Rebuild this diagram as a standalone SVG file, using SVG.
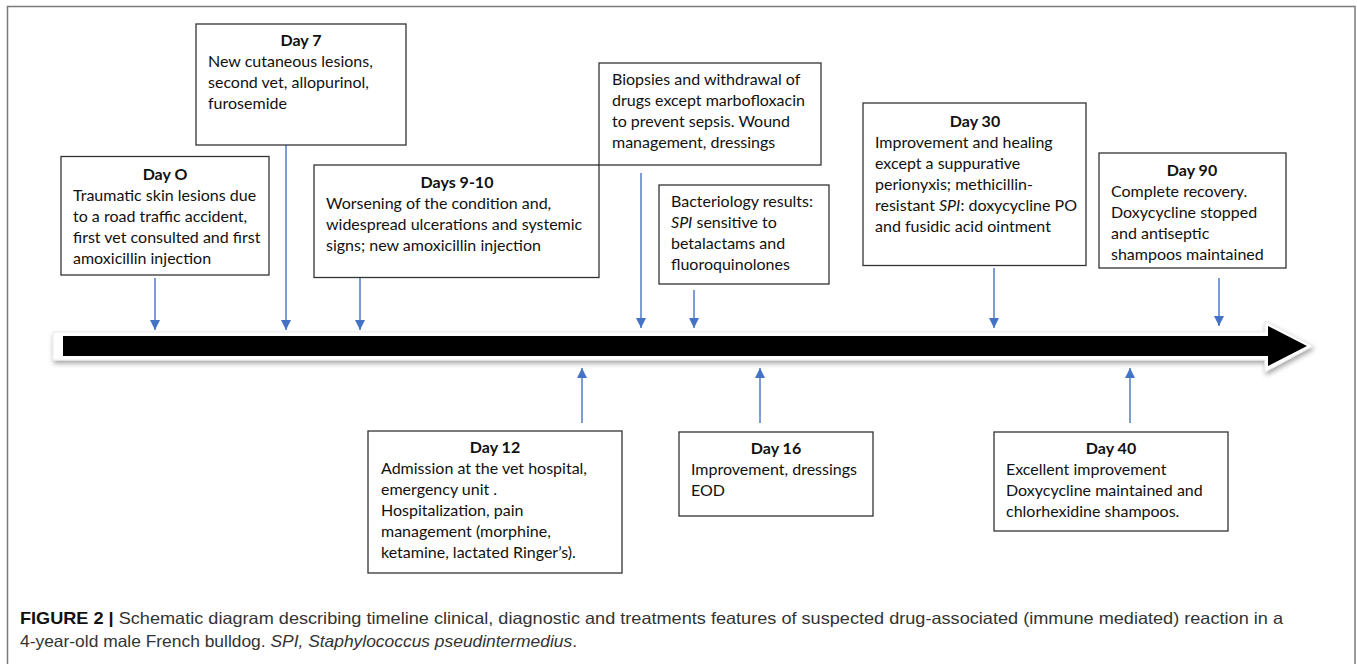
<svg xmlns="http://www.w3.org/2000/svg" width="1357" height="664" viewBox="0 0 1357 664">
<style>
.box{fill:#fff;stroke:#333;stroke-width:1.3}
.t{font-family:Lato,"Open Sans","Liberation Sans",sans-serif;font-size:16px;fill:#111}
.h{font-weight:bold;text-anchor:middle}
.c{stroke:#4472C4;stroke-width:1.4;fill:none}
.cap{font-family:"Liberation Sans",Arial,sans-serif;font-size:16.5px;fill:#333}
</style>
<defs>
<marker id="ah" viewBox="0 0 10 10" refX="10" refY="5" markerWidth="10" markerHeight="10" markerUnits="userSpaceOnUse" orient="auto">
<path d="M0,0 L10,5 L0,10 Z" fill="#4472C4"/>
</marker>
<filter id="sh" x="-5%" y="-50%" width="110%" height="200%">
<feDropShadow dx="1" dy="3" stdDeviation="2.5" flood-color="#000" flood-opacity="0.35"/>
</filter>
</defs>
<rect x="7.5" y="6.5" width="1347.5" height="700" fill="#fff" stroke="#7a7a7a" stroke-width="1.5"/>
<g id="timeline">
<path d="M53,332 L1265,332 L1265,321 L1313,346 L1265,372 L1265,360 L53,360 Z" fill="#fff" stroke="#e8e8e8" stroke-width="1" stroke-linejoin="round" filter="url(#sh)"/>
<path d="M63,336 L1268,336 L1268,326 L1307,346 L1268,366 L1268,356 L63,356 Z" fill="#000"/>
</g>
<g id="connectors">
<line class="c" x1="155" y1="278" x2="155" y2="330" marker-end="url(#ah)"/>
<line class="c" x1="286" y1="145" x2="286" y2="330" marker-end="url(#ah)"/>
<line class="c" x1="360" y1="278" x2="360" y2="330" marker-end="url(#ah)"/>
<line class="c" x1="641" y1="173" x2="641" y2="328" marker-end="url(#ah)"/>
<line class="c" x1="694" y1="290" x2="694" y2="328" marker-end="url(#ah)"/>
<line class="c" x1="994" y1="268" x2="994" y2="328" marker-end="url(#ah)"/>
<line class="c" x1="1219" y1="278" x2="1219" y2="326" marker-end="url(#ah)"/>
<line class="c" x1="582" y1="423" x2="582" y2="368" marker-end="url(#ah)"/>
<line class="c" x1="760" y1="423" x2="760" y2="368" marker-end="url(#ah)"/>
<line class="c" x1="1130" y1="423" x2="1130" y2="368" marker-end="url(#ah)"/>
</g>
<g id="day0">
<rect class="box" x="61" y="156.5" width="208" height="118.5"/>
<text class="t h" x="165" y="180">Day O</text>
<text class="t" x="73" y="201">Traumatic skin lesions due</text>
<text class="t" x="73" y="222">to a road traffic accident,</text>
<text class="t" x="73" y="243">first vet consulted and first</text>
<text class="t" x="73" y="264">amoxicillin injection</text>
</g>
<g id="day7">
<rect class="box" x="196" y="24" width="210" height="121"/>
<text class="t h" x="301" y="46">Day 7</text>
<text class="t" x="208" y="67">New cutaneous lesions,</text>
<text class="t" x="208" y="88">second vet, allopurinol,</text>
<text class="t" x="208" y="109">furosemide</text>
</g>
<g id="day9-10">
<rect class="box" x="314" y="165" width="285" height="112.5"/>
<text class="t h" x="457" y="188">Days 9-10</text>
<text class="t" x="326" y="209">Worsening of the condition and,</text>
<text class="t" x="326" y="230">widespread ulcerations and systemic</text>
<text class="t" x="326" y="251">signs; new amoxicillin injection</text>
</g>
<g id="biopsies">
<rect class="box" x="599" y="63" width="222" height="102"/>
<text class="t" x="612" y="85">Biopsies and withdrawal of</text>
<text class="t" x="612" y="106">drugs except marbofloxacin</text>
<text class="t" x="612" y="127">to prevent sepsis. Wound</text>
<text class="t" x="612" y="148">management, dressings</text>
</g>
<g id="bacteriology">
<rect class="box" x="659" y="185" width="170" height="99"/>
<text class="t" x="671" y="207">Bacteriology results:</text>
<text class="t" x="671" y="228"><tspan font-style="italic">SPI</tspan> sensitive to</text>
<text class="t" x="671" y="249">betalactams and</text>
<text class="t" x="671" y="270">fluoroquinolones</text>
</g>
<g id="day30">
<rect class="box" x="863" y="103" width="223" height="162.5"/>
<text class="t h" x="975" y="127">Day 30</text>
<text class="t" x="875" y="148">Improvement and healing</text>
<text class="t" x="875" y="169">except a suppurative</text>
<text class="t" x="875" y="190">perionyxis; methicillin-</text>
<text class="t" x="875" y="211">resistant <tspan font-style="italic">SPI</tspan>: doxycycline PO</text>
<text class="t" x="875" y="232">and fusidic acid ointment</text>
</g>
<g id="day90">
<rect class="box" x="1099" y="153" width="187" height="115"/>
<text class="t h" x="1192" y="176">Day 90</text>
<text class="t" x="1111" y="197">Complete recovery.</text>
<text class="t" x="1111" y="218">Doxycycline stopped</text>
<text class="t" x="1111" y="239">and antiseptic</text>
<text class="t" x="1111" y="260">shampoos maintained</text>
</g>
<g id="day12">
<rect class="box" x="368" y="431" width="254" height="142"/>
<text class="t h" x="495" y="453">Day 12</text>
<text class="t" x="381" y="474">Admission at the vet hospital,</text>
<text class="t" x="381" y="495">emergency unit .</text>
<text class="t" x="381" y="516">Hospitalization, pain</text>
<text class="t" x="381" y="537">management (morphine,</text>
<text class="t" x="381" y="558">ketamine, lactated Ringer’s).</text>
</g>
<g id="day16">
<rect class="box" x="679" y="432" width="194" height="84"/>
<text class="t h" x="776" y="454">Day 16</text>
<text class="t" x="691" y="475">Improvement, dressings</text>
<text class="t" x="691" y="496">EOD</text>
</g>
<g id="day40">
<rect class="box" x="994" y="432" width="234" height="99"/>
<text class="t h" x="1111" y="454">Day 40</text>
<text class="t" x="1006" y="475">Excellent improvement</text>
<text class="t" x="1006" y="496">Doxycycline maintained and</text>
<text class="t" x="1006" y="517">chlorhexidine shampoos.</text>
</g>
<g id="caption">
<text class="cap" x="20" y="624" textLength="1263" lengthAdjust="spacingAndGlyphs"><tspan font-weight="bold" fill="#111">FIGURE 2 |</tspan> Schematic diagram describing timeline clinical, diagnostic and treatments features of suspected drug-associated (immune mediated) reaction in a</text>
<text class="cap" x="20" y="647" textLength="557" lengthAdjust="spacingAndGlyphs">4-year-old male French bulldog. <tspan font-style="italic">SPI, Staphylococcus pseudintermedius</tspan>.</text>
</g>
</svg>
